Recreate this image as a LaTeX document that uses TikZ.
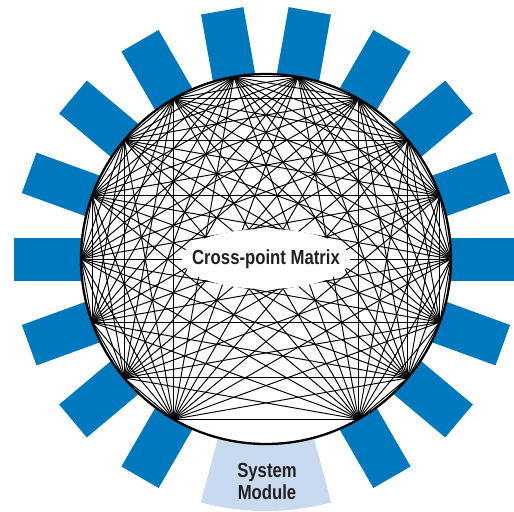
\documentclass[tikz,border=0pt]{standalone}
\usepackage{fontspec}
\newfontfamily\condfont[FakeStretch=0.82]{Liberation Sans}
\definecolor{portblue}{RGB}{0,120,190}
\definecolor{syslight}{RGB}{200,218,240}
\definecolor{labelgray}{RGB}{35,31,32}

\begin{document}
\begin{tikzpicture}[x=0.02cm,y=0.02cm,
  port/.style={fill=portblue},
  sysmod/.style={fill=syslight},
  chord/.style={line width=0.55pt},
  rim/.style={line width=1.3pt},
  lbl/.style={font=\condfont\bfseries\fontsize{11.6}{12.5}\selectfont,text=labelgray,align=center,inner sep=0pt}]
\useasboundingbox (-266,-252) rectangle (248,259);
\clip (-266,-252) rectangle (248,259);
\fill[sysmod] (255:150) arc (255:285:150) -- (285:252) arc (285:255:252) -- cycle;
\foreach \a in {0,20,...,240,300,320,340}
  \fill[port,rotate=\a] (150,-21.5) rectangle (252,21.5);
\fill[white] (0,0) circle (185);
\foreach \a in {0,20,...,240,300,320,340}
  \coordinate (v\a) at (\a:185);
\foreach \a in {0,20,...,240,300,320,340}
  \foreach \b in {0,20,...,240,300,320,340}
    {\ifnum\a<\b \draw[chord] (v\a) -- (v\b);\fi}
\fill[white] (0,0) ellipse (84 and 30);
\draw[rim] (0,0) circle (185);
\node[lbl] (xpm) at (0,0) {Cross-point Matrix};
\node[lbl] (sysmodule) at (1,-222) {System\\Module};
\end{tikzpicture}
\end{document}
